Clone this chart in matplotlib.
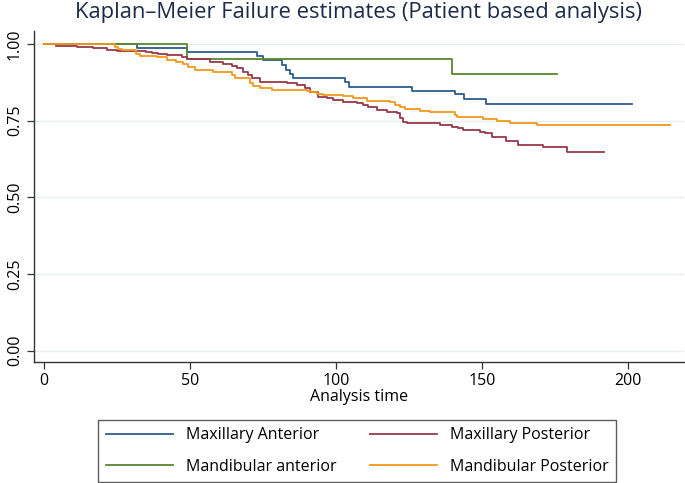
import matplotlib
matplotlib.use("Agg")
import matplotlib.pyplot as plt
from matplotlib import font_manager

# Kaplan-Meier step values
max_ant_t = [0, 32, 49, 72.8, 75.1, 81.4, 83, 84.2, 85.4, 103, 104.5, 126, 140.8, 143.8, 151.3, 201.3]
max_ant_s = [1.0, 0.988, 0.974, 0.960, 0.948, 0.932, 0.917, 0.904, 0.890, 0.877, 0.861, 0.848, 0.836,
             0.820, 0.805, 0.805]

mand_ant_t = [0, 49, 139.6, 175.8]
mand_ant_s = [1.0, 0.950, 0.901, 0.901]

max_post_t = [0, 4.3, 11.2, 16.9, 21.5, 24.9, 35, 37, 39, 42, 47.2, 48.9, 56.8, 61.4, 64.3, 66, 68.2,
              70, 71.1, 74, 83.1, 86.5, 89.4, 91.1, 94, 96.8, 99, 102.5, 107.1, 109.4, 111.1, 113.9,
              117.4, 120.8, 121.9, 123, 124.2, 135.6, 139.6, 141.9, 143.6, 149.3, 151, 153.3, 158.4,
              162.4, 171, 179.2, 191.9]
max_post_s = [1.0, 0.993, 0.991, 0.986, 0.980, 0.977, 0.974, 0.970, 0.967, 0.963, 0.959, 0.951, 0.942,
              0.935, 0.928, 0.921, 0.910, 0.899, 0.888, 0.877, 0.872, 0.866, 0.856, 0.845, 0.828, 0.823,
              0.817, 0.812, 0.807, 0.801, 0.796, 0.785, 0.779, 0.774, 0.758, 0.747, 0.741, 0.736, 0.730,
              0.725, 0.720, 0.714, 0.709, 0.696, 0.685, 0.671, 0.663, 0.647, 0.647]

mand_post_t = [0, 24.3, 25.5, 26.6, 31.7, 33, 38.6, 42, 45.4, 47.7, 49.4, 51.7, 58, 64.3, 65.4, 70.5,
               71.7, 74, 78, 90, 91.5, 93.4, 95.7, 102.5, 106, 110.5, 118.5, 120.2, 121.9, 123.6, 128.8,
               132.2, 140.8, 141.5, 150.4, 155, 159.6, 168.9, 214.4]
mand_post_s = [1.0, 0.990, 0.985, 0.980, 0.967, 0.961, 0.957, 0.948, 0.942, 0.935, 0.924, 0.917, 0.910,
               0.899, 0.888, 0.872, 0.863, 0.856, 0.850, 0.847, 0.843, 0.837, 0.834, 0.830, 0.823, 0.815,
               0.810, 0.801, 0.794, 0.787, 0.783, 0.777, 0.768, 0.761, 0.754, 0.749, 0.743, 0.736, 0.736]

y_ticks = [0.0, 0.25, 0.5, 0.75, 1.0]
x_ticks = [0, 50, 100, 150, 200]

installed = {f.name for f in font_manager.fontManager.ttflist}
family = "Open Sans" if "Open Sans" in installed else "DejaVu Sans"
plt.rcParams["font.family"] = family

fig = plt.figure(figsize=(6.85, 4.83), dpi=100)
ax = fig.add_axes([34 / 685, 121.3 / 483, 650 / 685, 330.5 / 483])

for y in y_ticks:
    ax.axhline(y, color="#e6eeef", lw=1.0, zorder=0)

ax.step(max_ant_t, max_ant_s, where="post", color="#2e5d8a", lw=1.3, label="Maxillary Anterior")
ax.step(mand_ant_t, mand_ant_s, where="post", color="#5b8733", lw=1.3, label="Mandibular anterior")
ax.step(max_post_t, max_post_s, where="post", color="#98384a", lw=1.3, label="Maxillary Posterior")
ax.step(mand_post_t, mand_post_s, where="post", color="#f0981a", lw=1.3, label="Mandibular Posterior")

ax.set_xlim(-3.4, 219.2)
ax.set_ylim(-0.036, 1.042)
ax.set_xticks(x_ticks)
ax.set_yticks(y_ticks)
ax.set_yticklabels(["%.2f" % v for v in y_ticks], rotation=90, va="center")
ax.tick_params(axis="both", direction="out", length=5, width=0.9, color="#333333",
               labelsize=11.5, pad=3)
for s in ["top", "right"]:
    ax.spines[s].set_visible(False)
for s in ["left", "bottom"]:
    ax.spines[s].set_color("#333333")
    ax.spines[s].set_linewidth(1.0)
ax.set_xlabel("Analysis time", fontsize=11.5, labelpad=0)

fig.text(358 / 685, 1 - 2 / 483, "Kaplan\u2013Meier Failure estimates (Patient based analysis)",
         ha="center", va="top", fontsize=15.8, color="#1c2b4a")

handles, labels = ax.get_legend_handles_labels()
leg = fig.legend(handles, labels, ncol=2,
                 loc="center", bbox_to_anchor=(357 / 685, 32 / 483), fontsize=11.5,
                 frameon=True, fancybox=False, edgecolor="#333333", handlelength=4.2,
                 handletextpad=0.8, columnspacing=2.1, labelspacing=0.95, borderpad=0.45)
leg.get_frame().set_linewidth(1.0)

fig.savefig("out.png", dpi=100)
